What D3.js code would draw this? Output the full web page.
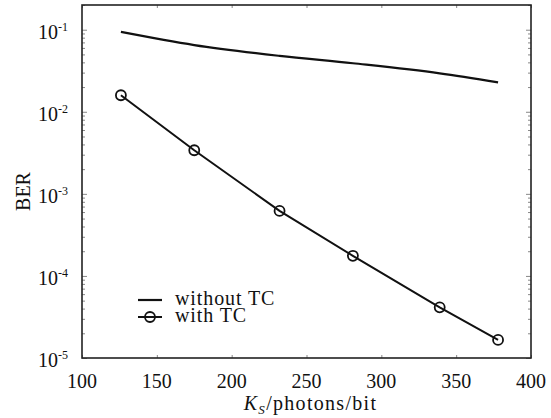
<!DOCTYPE html>
<html>
<head>
<meta charset="utf-8">
<script src="https://cdn.jsdelivr.net/npm/d3@7"></script>
<style>
  body { margin: 0; background: #fff; }
  svg text { font-family: 'Liberation Serif', 'Times New Roman', serif; fill: #111; }
</style>
</head>
<body>
<script>
// photon number per bit
let ksWithout = [126, 175, 232, 281, 339, 378]
let berWithout = [0.094, 0.065, 0.048, 0.039, 0.0294, 0.0228]

let ksWith = [126, 175, 232, 281, 339, 378]
let berWith = [0.0159, 0.0034, 0.00062, 0.000176, 0.0000414, 0.0000166]

let xTicks = [100, 150, 200, 250, 300, 350, 400]
let yTicks = [1e-5, 1e-4, 1e-3, 1e-2, 1e-1]
let yExps = ['-5', '-4', '-3', '-2', '-1']

let legendLabels = ['without TC', 'with TC']

let width = 551
let height = 418
let padLeft = 82, padRight = 531, padTop = 5, padBottom = 358
let serif = "'Liberation Serif', 'Times New Roman', serif"

let svg = d3.select('body').append('svg')
    .attr('width', width)
    .attr('height', height)
    .attr('font-family', serif)

let xScale = d3.scaleLinear().domain([100, 400]).range([padLeft, padRight])
let yScale = d3.scaleLog().domain([1e-5, 0.2]).range([padBottom, padTop])

// minor ticks on log axis (inside, left and right)
let minor = []
for (let e = -5; e <= -1; e++) {
    for (let m = 2; m <= 9; m++) {
        let v = m * Math.pow(10, e)
        if (v <= 0.2) minor.push(v)
    }
}

let yAxisL = d3.axisRight(yScale).tickValues(yTicks).tickSize(5).tickFormat('')
let yAxisLm = d3.axisRight(yScale).tickValues(minor).tickSize(3).tickFormat('')
let yAxisR = d3.axisLeft(yScale).tickValues(yTicks).tickSize(5).tickFormat('')
let yAxisRm = d3.axisLeft(yScale).tickValues(minor).tickSize(3).tickFormat('')
let xAxisB = d3.axisTop(xScale).tickValues(xTicks).tickSize(3).tickFormat('')
let xAxisT = d3.axisBottom(xScale).tickValues(xTicks).tickSize(3).tickFormat('')

let axisGroups = [
    svg.append('g').attr('transform', `translate(${padLeft},0)`).call(yAxisL),
    svg.append('g').attr('transform', `translate(${padLeft},0)`).call(yAxisLm),
    svg.append('g').attr('transform', `translate(${padRight},0)`).call(yAxisR),
    svg.append('g').attr('transform', `translate(${padRight},0)`).call(yAxisRm),
    svg.append('g').attr('transform', `translate(0,${padBottom})`).call(xAxisB),
    svg.append('g').attr('transform', `translate(0,${padTop})`).call(xAxisT)
]
axisGroups.forEach(g => {
    g.select('.domain').remove()
    g.selectAll('line').attr('stroke', '#888').attr('stroke-width', 1)
})

// frame
svg.append('rect')
    .attr('x', padLeft)
    .attr('y', padTop)
    .attr('width', padRight - padLeft)
    .attr('height', padBottom - padTop)
    .attr('fill', 'none')
    .attr('stroke', '#222')
    .attr('stroke-width', 1.6)

// x tick labels
svg.append('g').selectAll('text')
    .data(xTicks)
    .enter()
    .append('text')
    .attr('x', d => xScale(d))
    .attr('y', padBottom + 30)
    .attr('text-anchor', 'middle')
    .style('font-family', serif)
    .style('font-size', '20px')
    .text(d => d)

// y tick labels 10^e
let yLab = svg.append('g').selectAll('text')
    .data(yTicks)
    .enter()
    .append('text')
    .attr('x', 38)
    .attr('y', d => yScale(d) + 9)
    .style('font-family', serif)
    .style('font-size', '20px')
yLab.append('tspan').text('10')
yLab.append('tspan')
    .attr('dy', -8)
    .style('font-size', '12px')
    .text((d, i) => yExps[i])

// axis titles
svg.append('text')
    .attr('transform', `translate(30, ${(padTop + padBottom) / 2 + 10}) rotate(-90)`)
    .attr('text-anchor', 'middle')
    .style('font-family', serif)
    .style('font-size', '20px')
    .text('BER')

let xt = svg.append('text')
    .attr('x', (padLeft + padRight) / 2 + 4)
    .attr('y', 410)
    .attr('text-anchor', 'middle')
    .style('font-family', serif)
    .style('font-size', '20px')
    .style('letter-spacing', '1.3px')
xt.append('tspan').style('font-style', 'italic').text('K')
xt.append('tspan').attr('dy', 4).style('font-style', 'italic').style('font-size', '13px').text('S')
xt.append('tspan').attr('dy', -4).text('/photons/bit')

// lines
let line = d3.line()
    .x(d => xScale(d[0]))
    .y(d => yScale(d[1]))

let dataWithout = ksWithout.map((k, i) => [k, berWithout[i]])
let dataWith = ksWith.map((k, i) => [k, berWith[i]])

svg.append('path')
    .datum(dataWithout)
    .attr('d', d3.line().x(d => xScale(d[0])).y(d => yScale(d[1])).curve(d3.curveMonotoneX))
    .attr('fill', 'none')
    .attr('stroke', '#111')
    .attr('stroke-width', 2.2)

svg.append('path')
    .datum(dataWith)
    .attr('d', line)
    .attr('fill', 'none')
    .attr('stroke', '#111')
    .attr('stroke-width', 2)

svg.selectAll('.dot')
    .data(dataWith)
    .enter()
    .append('circle')
    .attr('class', 'dot')
    .attr('cx', d => xScale(d[0]))
    .attr('cy', d => yScale(d[1]))
    .attr('r', 5)
    .attr('fill', 'none')
    .attr('stroke', '#111')
    .attr('stroke-width', 1.8)

// legend
let legend = svg.append('g')
legend.append('line')
    .attr('x1', 138).attr('x2', 162)
    .attr('y1', 300).attr('y2', 300)
    .attr('stroke', '#111').attr('stroke-width', 2.2)
legend.append('line')
    .attr('x1', 138).attr('x2', 162)
    .attr('y1', 317).attr('y2', 317)
    .attr('stroke', '#111').attr('stroke-width', 2)
legend.append('circle')
    .attr('cx', 150).attr('cy', 317).attr('r', 5)
    .attr('fill', 'none').attr('stroke', '#111').attr('stroke-width', 1.8)
legend.selectAll('text')
    .data(legendLabels)
    .enter()
    .append('text')
    .attr('x', 175)
    .attr('y', (d, i) => 305 + i * 17)
    .style('font-family', serif)
    .style('font-size', '20px')
    .style('letter-spacing', '0.9px')
    .text(d => d)
</script>
</body>
</html>
